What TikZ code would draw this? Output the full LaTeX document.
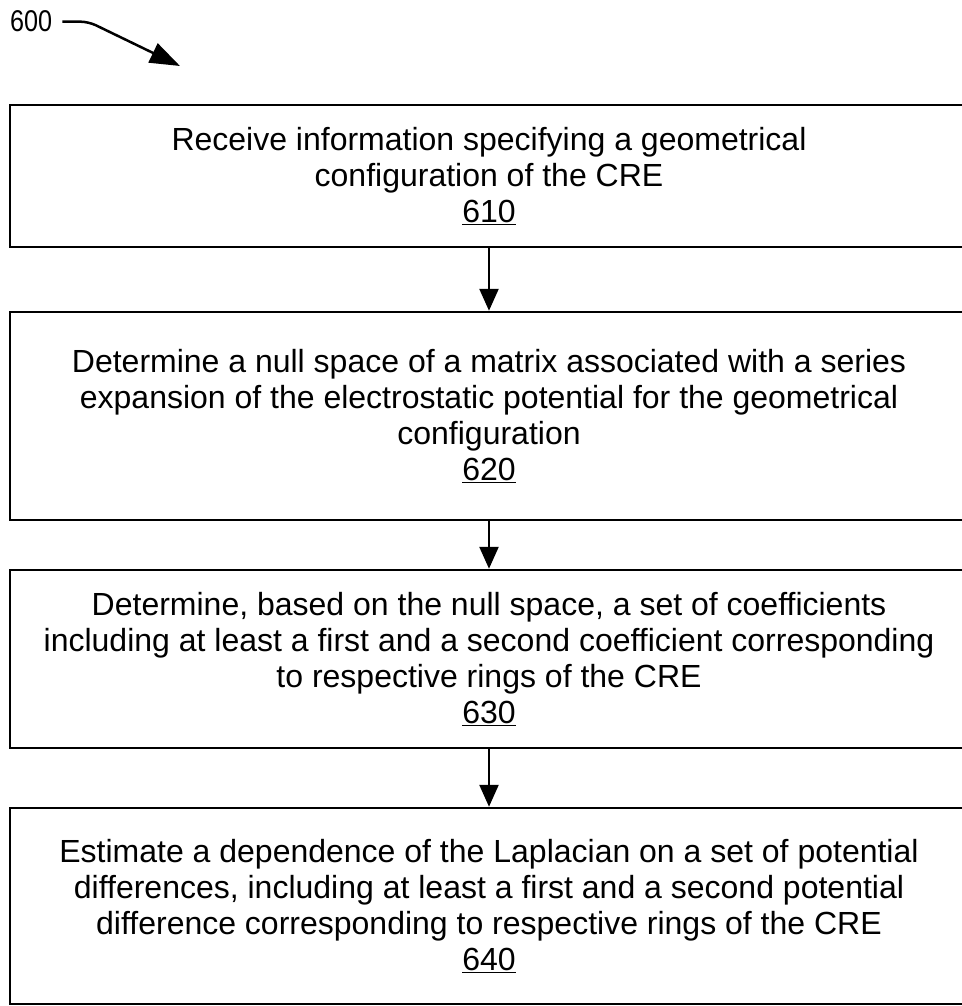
\documentclass[tikz,border=0pt]{standalone}
\usepackage{fontspec}
\setmainfont{Liberation Sans}
\newfontfamily\narrowfont[FakeStretch=0.84]{Liberation Sans}
\usetikzlibrary{arrows.meta}
\begin{document}
\begin{tikzpicture}[x=1pt,y=-1pt,
  stepbox/.style={draw=black, line width=2.5pt, minimum width=958pt,
    inner sep=0pt, align=center,
    font=\fontsize{32pt}{36pt}\selectfont},
  flow/.style={line width=2.5pt, -{Triangle[length=22pt,width=19pt]}},
  refarrow/.style={line width=2.5pt, rounded corners=8pt,
    -{Triangle[length=30pt,width=21pt]}}]
\useasboundingbox (0,0) rectangle (961,1006);

% figure reference numeral with its pointer
\node[anchor=base west, inner sep=0pt, font=\narrowfont\fontsize{30pt}{30pt}\selectfont]
  (fig) at (10,32) {600};
\coordinate (figtip) at (180,66);
\draw[refarrow] ([xshift=10pt]fig.east) -- ++(26,0) -- (figtip);

% process steps
\node[stepbox, minimum height=142pt] (s610) at (489,176)
  {Receive information specifying a geometrical\\
   configuration of the CRE\\
   \underline{610}};
\node[stepbox, minimum height=208pt] (s620) at (489,416)
  {Determine a null space of a matrix associated with a series\\
   expansion of the electrostatic potential for the geometrical\\
   configuration\\
   \underline{620}};
\node[stepbox, minimum height=178pt] (s630) at (489,659)
  {Determine, based on the null space, a set of coefficients\\
   including at least a first and a second coefficient corresponding\\
   to respective rings of the CRE\\
   \underline{630}};
\node[stepbox, minimum height=196pt] (s640) at (489,906)
  {Estimate a dependence of the Laplacian on a set of potential\\
   differences, including at least a first and a second potential\\
   difference corresponding to respective rings of the CRE\\
   \underline{640}};

% flow between steps
\draw[flow] (s610.south) -- (s620.north);
\draw[flow] (s620.south) -- (s630.north);
\draw[flow] (s630.south) -- (s640.north);
\end{tikzpicture}
\end{document}
